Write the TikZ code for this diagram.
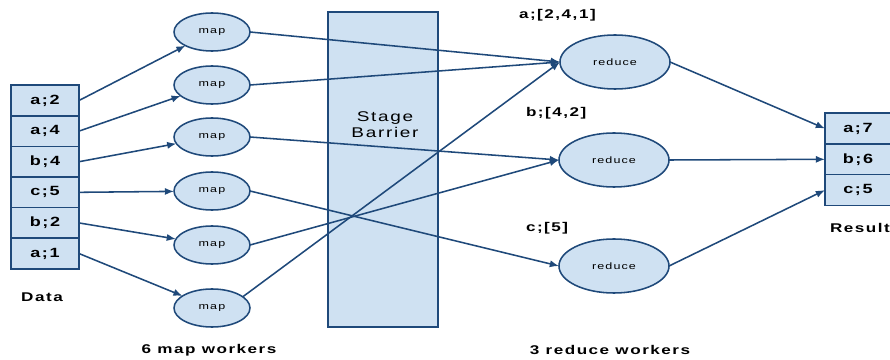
\documentclass[tikz,border=0pt]{standalone}
\usepackage{fontspec}
\setmainfont{Liberation Sans}[FakeStretch=1.35,LetterSpace=12]
\usetikzlibrary{positioning,shapes.geometric,arrows.meta}

\definecolor{flowline}{RGB}{31,73,122}
\definecolor{flowfill}{RGB}{207,225,242}

\begin{document}
\begin{tikzpicture}[x=0.025cm,y=-0.025cm,
every node/.style={inner sep=0pt,outer sep=0pt},
cell/.style={draw=flowline,fill=flowfill,line width=1.1pt,minimum width=1.7cm,minimum height=0.765cm,font=\bfseries\fontsize{9.5}{10}\selectfont},
rescell/.style={cell,minimum width=1.65cm,minimum height=0.77cm},
mapper/.style={ellipse,draw=flowline,fill=flowfill,line width=1.1pt,minimum width=1.9cm,minimum height=0.95cm,font=\fontsize{6.6}{7}\selectfont},
reducer/.style={mapper,minimum width=2.75cm,minimum height=1.35cm},
caption/.style={font=\bfseries\fontsize{9}{10}\selectfont},
flow/.style={draw=flowline,line width=1.1pt,-{Latex[length=2.3mm,width=1.8mm]}}]
\useasboundingbox (0,0) rectangle (890,360);

% input data column
\node [cell] (da2) at (45,100.5) {a;2};
\node [cell,below=0pt of da2] (da4) {a;4};
\node [cell,below=0pt of da4] (db4) {b;4};
\node [cell,below=0pt of db4] (dc5) {c;5};
\node [cell,below=0pt of dc5] (db2) {b;2};
\node [cell,below=0pt of db2] (da1) {a;1};
\node [caption] (data) at (42,297) {Data};

% map workers
\node [mapper] (map1) at (212,32) {map};
\node [mapper] (map2) at (212,85) {map};
\node [mapper] (map3) at (212,137) {map};
\node [mapper] (map4) at (212,191) {map};
\node [mapper] (map5) at (212,245) {map};
\node [mapper] (map6) at (212,308) {map};
\node [caption] (mapcap) at (209,350) {6 map workers};

% barrier
\node [draw=flowline,fill=flowfill,line width=1.1pt,minimum width=2.75cm,minimum height=7.875cm] (barrier) at (383,169.5) {};
\node [align=center,font=\fontsize{10}{11.5}\selectfont] (barriertext) at (385,125) {Stage\\Barrier};

% reduce workers
\node [reducer] (red1) at (615,62) {reduce};
\node [reducer] (red2) at (614,160) {reduce};
\node [reducer] (red3) at (614,266) {reduce};
\node [caption,anchor=west] (keya) at (519,15) {a;[2,4,1]};
\node [caption,anchor=west] (keyb) at (526,113) {b;[4,2]};
\node [caption,anchor=west] (keyc) at (526,228) {c;[5]};
\node [caption] (redcap) at (610,350) {3 reduce workers};

% result column
\node [rescell] (ra7) at (858,128.5) {a;7};
\node [rescell,below=0pt of ra7] (rb6) {b;6};
\node [rescell,below=0pt of rb6] (rc5) {c;5};
\node [caption,anchor=west] (result) at (830,228) {Result};

% data to map
\draw [flow] (da2.east) -- (map1);
\draw [flow] (da4.east) -- (map2);
\draw [flow] (db4.east) -- (map3);
\draw [flow] (dc5.east) -- (map4);
\draw [flow] (db2.east) -- (map5);
\draw [flow] (da1.east) -- (map6);

% map to reduce
\draw [flow] (map1.east) -- (red1.west);
\draw [flow] (map2.east) -- (red1.west);
\draw [flow] (map3.east) -- (red2.west);
\draw [flow] (map4.east) -- (red3.west);
\draw [flow] (map5.east) -- (red2.west);
\draw [flow] (map6.20) -- (red1.west);

% reduce to result
\draw [flow] (red1.east) -- (ra7.west);
\draw [flow] (red2.east) -- (rb6.west);
\draw [flow] (red3.east) -- (rc5.west);
\end{tikzpicture}
\end{document}
